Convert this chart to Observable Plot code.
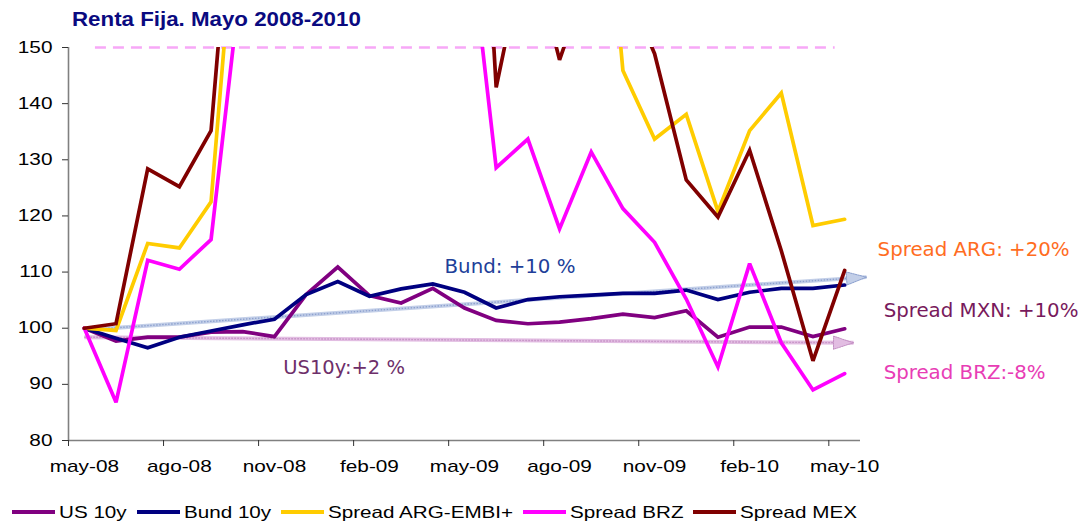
<!DOCTYPE html>
<html><head><meta charset="utf-8">
<script src="https://cdn.jsdelivr.net/npm/d3@7"></script>
<script src="https://cdn.jsdelivr.net/npm/@observablehq/plot@0.6"></script>
<style>
body{margin:0;background:#fff;}
#wrap{position:relative;width:1083px;height:524px;overflow:hidden;font-family:"Liberation Sans",Arial,sans-serif;}
#chart{position:absolute;left:0;top:0;}
#title{position:absolute;left:72px;top:9px;font-size:20px;font-weight:bold;color:#0a0a80;line-height:21px;white-space:nowrap;}
#legend{position:absolute;left:12px;top:502px;display:flex;align-items:center;font-size:16.5px;line-height:20px;white-space:nowrap;color:#000;}
.item{display:flex;align-items:center;margin-right:10px;}
.sw{width:43px;height:4px;margin-right:4px;}
.st{display:inline-block;transform-origin:0 50%;}
</style></head><body>
<div id="wrap"><div id="chart"></div><div id="title"><span class="st" data-s="1.115">Renta Fija. Mayo 2008-2010</span></div><div id="legend"></div></div>
<script>
// ---- data ----
const months = ["may-08","jun-08","jul-08","ago-08","sep-08","oct-08","nov-08","dic-08","ene-09","feb-09","mar-09","abr-09","may-09","jun-09","jul-09","ago-09","sep-09","oct-09","nov-09","dic-09","ene-10","feb-10","mar-10","abr-10","may-10"];
const tickLabelIdx = [0,3,6,9,12,15,18,21,24];
const yTicks = [80,90,100,110,120,130,140,150];
const seriesNames = ["US 10y","Bund 10y","Spread ARG-EMBI+","Spread BRZ","Spread MEX"];
const seriesColors = ["#800080","#000080","#ffcc00","#ff00ff","#800000"];
const us10y = [100,97.7,98.4,98.4,99.3,99.4,98.5,106,110.9,105.8,104.5,107.1,103.6,101.4,100.8,101.1,101.7,102.5,101.9,103.1,98.4,100.2,100.2,98.5,99.9];
const bund10y = [100,98.2,96.5,98.4,99.5,100.6,101.6,106,108.3,105.7,107,107.9,106.4,103.6,105.1,105.6,105.9,106.2,106.2,106.8,105.1,106.4,107.1,107.1,107.7];
const spreadARG = [100,99.6,115.1,114.3,122.5,190,230,280,300,320,300,290,280,260,240,220,208,145.9,133.7,138.1,120.8,135.2,141.9,118.3,119.4];
const spreadBRZ = [100,86.8,112.1,110.5,115.8,165,200,230,240,220,210,190,178,128.6,133.7,117.7,131.4,121.3,115.3,105.2,93.1,111.5,97.4,89,91.9];
const spreadMEX = [100,100.8,128.4,125.2,135.2,202,260,310,330,300,280,260,240,142.9,170,147.8,164,162,148.9,126.4,119.8,131.7,113.8,94.2,110.3];
// trend arrows (start index, start value, end index, end value)
const arrowBund = {x1:0, y1:99.7, x2:24.69, y2:109.1};
const arrowUS = {x1:0, y1:98.4, x2:24.28, y2:97.4};
const cap150 = {x1:0.35, x2:23.7, y:150};
const annotations = [
  {label:"Bund: +10 %", x:11.37, y:109.75, color:"#213f99", size:19.8},
  {label:"US10y:+2 %", x:6.28, y:91.93, color:"#6e2f6a", size:19.5},
  {label:"Spread ARG: +20%", x:25.04, y:112.86, color:"#ff6d1f", size:19.8},
  {label:"Spread MXN: +10%", x:25.23, y:101.96, color:"#781a5c", size:19.8},
  {label:"Spread BRZ:-8%", x:25.23, y:91.04, color:"#e83db5", size:19.8}
];

// ---- build table ----
const seriesValues = [us10y,bund10y,spreadARG,spreadBRZ,spreadMEX];
const table = seriesNames.flatMap((s,k)=>seriesValues[k].map((v,i)=>({s,i,v})));

const W=1083, H=480, mL=68, mR=223, mT=47, mB=40;
const xDom=[-0.5,24.5], yDom=[80,150];
const pxX=(W-mL-mR)/(xDom[1]-xDom[0]), pxY=(H-mT-mB)/(yDom[1]-yDom[0]);
function rot(a){ return 90 + Math.atan2(-(a.y2-a.y1)*pxY,(a.x2-a.x1)*pxX)*180/Math.PI; }
const headShape = {draw(ctx,l,r){ ctx.moveTo(0,-l); ctx.lineTo(-6.5,0); ctx.lineTo(6.5,0); ctx.closePath(); }};

function arrowMarks(a, base, dots){
  return [
    Plot.link([a],{x1:"x1",y1:"y1",x2:"x2",y2:"y2",stroke:base,strokeWidth:4}),
    Plot.link([a],{x1:"x1",y1:"y1",x2:"x2",y2:"y2",stroke:dots,strokeWidth:1.4,strokeDasharray:"1.5,1.5"}),
    Plot.vector([a],{x:"x2",y:"y2",length:20,rotate:rot(a),anchor:"end",shape:headShape,fill:base,stroke:dots,strokeWidth:1,strokeDasharray:"1.5,1"})
  ];
}

const chart = Plot.plot({
  width:W, height:H, marginLeft:mL, marginRight:mR, marginTop:mT, marginBottom:mB,
  style:{fontFamily:"'Liberation Sans', Arial, sans-serif", background:"transparent", overflow:"visible"},
  x:{domain:xDom, axis:null},
  y:{domain:yDom, axis:null},
  color:{domain:seriesNames, range:seriesColors},
  marks:[
    Plot.ruleY([cap150],{y:"y",x1:"x1",x2:"x2",stroke:"#f7a8f7",strokeWidth:2.5,strokeDasharray:"11,7"}),
    ...arrowMarks(arrowBund,"#c3cfe8","#8ea2cf"),
    ...arrowMarks(arrowUS,"#e2bde2","#c38fc3"),
    Plot.ruleX([xDom[0]],{y1:yDom[0],y2:yDom[1],stroke:"#808080",strokeWidth:1.6}),
    Plot.ruleY([yDom[0]],{x1:xDom[0],x2:xDom[1],stroke:"#808080",strokeWidth:1.6}),
    Plot.axisY({ticks:yTicks, tickSize:6, tickPadding:10, fontSize:16, stroke:"#333", fill:"#000"}),
    Plot.axisX({ticks:tickLabelIdx.map(i=>i-0.5), tickSize:6, tickFormat:()=>"", stroke:"#333"}),
    Plot.axisX({ticks:tickLabelIdx, tickSize:0, tickPadding:20, fontSize:16, tickFormat:i=>months[i], fill:"#000"}),
    Plot.lineY(table,{x:"i",y:"v",z:"s",stroke:"s",strokeWidth:3.7,clip:true,strokeLinejoin:"miter",strokeMiterlimit:3}),
    ...annotations.map(a=>Plot.text([a],{x:"x",y:"y",text:"label",fill:a.color,fontSize:a.size,fontFamily:"'DejaVu Sans', Verdana, sans-serif",textAnchor:"start",lineAnchor:"bottom"}))
  ]
});
document.getElementById("chart").appendChild(chart);

// stretch Arial-like axis labels horizontally (as in the original)
chart.querySelectorAll('g[aria-label="y-axis tick label"] text, g[aria-label="x-axis tick label"] text').forEach(t=>{
  const tr=t.getAttribute("transform")||""; const x=+(t.getAttribute("x")||0);
  t.setAttribute("transform", tr+` translate(${x},0) scale(1.3,1) translate(${-x},0)`);
});

// legend
const leg=document.getElementById("legend");
seriesNames.forEach((s,k)=>{
  const it=document.createElement("div"); it.className="item";
  const sw=document.createElement("div"); sw.className="sw"; sw.style.background=seriesColors[k];
  const tx=document.createElement("span"); tx.className="st"; tx.dataset.s="1.25"; tx.textContent=s;
  it.appendChild(sw); it.appendChild(tx); leg.appendChild(it);
});
document.querySelectorAll(".st").forEach(sp=>{
  const s=+sp.dataset.s; const w=sp.getBoundingClientRect().width;
  sp.style.transform=`scaleX(${s})`; sp.style.marginRight=(w*(s-1))+"px";
});
</script>
</body></html>
